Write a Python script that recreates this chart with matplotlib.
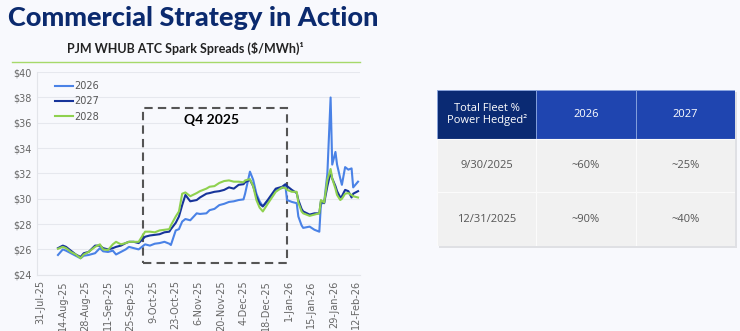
# PJM WHUB ATC spark spreads + hedge table

import pandas as pd
import matplotlib.pyplot as plt
import matplotlib.dates as mdates
from matplotlib.patches import Rectangle

dates = ['2025-08-11', '2025-08-14', '2025-08-16', '2025-08-19', '2025-08-22', '2025-08-25',
         '2025-08-27', '2025-08-30', '2025-09-03', '2025-09-06', '2025-09-08', '2025-09-11',
         '2025-09-14', '2025-09-16', '2025-09-19', '2025-09-22', '2025-09-24', '2025-09-27',
         '2025-09-30', '2025-10-04', '2025-10-07', '2025-10-10', '2025-10-13', '2025-10-16',
         '2025-10-19', '2025-10-20', '2025-10-23', '2025-10-25', '2025-10-27', '2025-10-29',
         '2025-11-01', '2025-11-05', '2025-11-07', '2025-11-11', '2025-11-13', '2025-11-16',
         '2025-11-19', '2025-11-22', '2025-11-25', '2025-11-28', '2025-12-01', '2025-12-04',
         '2025-12-05', '2025-12-08', '2025-12-10', '2025-12-12', '2025-12-14', '2025-12-16',
         '2025-12-19', '2025-12-24', '2025-12-28', '2025-12-30', '2025-12-31', '2026-01-03',
         '2026-01-06', '2026-01-07', '2026-01-09', '2026-01-10', '2026-01-14', '2026-01-17',
         '2026-01-20', '2026-01-21', '2026-01-23', '2026-01-25', '2026-01-27', '2026-01-28',
         '2026-01-30', '2026-01-31', '2026-02-02', '2026-02-03', '2026-02-05', '2026-02-07',
         '2026-02-09', '2026-02-10', '2026-02-13']

spread_2026 = [25.56, 26.0, 25.9, 25.7, 25.5, 25.3, 25.5, 25.56, 25.7, 26.1, 25.85, 25.8,
               25.9, 25.6, 25.8, 26.0, 26.2, 26.1, 26.0, 26.4, 26.3, 26.45, 26.5, 26.6,
               26.45, 26.35, 27.5, 27.6, 28.2, 28.4, 28.3, 28.85, 28.8, 28.85, 29.1, 29.2,
               29.5, 29.6, 29.75, 29.8, 29.9, 29.95, 30.4, 32.14, 31.5, 30.4, 29.8, 29.4,
               29.8, 30.7, 30.85, 31.0, 29.9, 29.75, 29.65, 28.6, 27.9, 27.7, 27.8, 27.55,
               27.4, 29.6, 29.7, 32.0, 38.0, 32.7, 33.7, 32.7, 31.6, 31.1, 32.5, 32.3,
               32.4, 30.9, 31.35]
spread_2027 = [26.1, 26.3, 26.2, 25.9, 25.6, 25.4, 25.7, 25.8, 26.3, 26.3, 26.1, 26.0,
               26.1, 26.2, 26.3, 26.5, 26.6, 26.6, 26.5, 27.0, 27.1, 27.15, 27.2, 27.35,
               27.4, 27.6, 28.1, 28.6, 29.5, 30.3, 29.8, 29.9, 30.1, 30.4, 30.45, 30.55,
               30.6, 30.7, 30.9, 30.8, 31.1, 31.15, 31.3, 31.5, 31.0, 30.2, 29.6, 29.4,
               29.9, 30.8, 30.95, 31.15, 31.0, 30.7, 30.45, 29.9, 29.2, 29.0, 28.75, 28.85,
               28.85, 29.8, 29.65, 31.0, 32.1, 31.6, 31.0, 30.6, 30.1, 30.2, 30.7, 30.6,
               30.1, 30.4, 30.6]
spread_2028 = [26.05, 26.2, 26.1, 25.8, 25.6, 25.3, 25.6, 25.8, 26.2, 26.4, 26.0, 25.95,
               26.4, 26.6, 26.4, 26.5, 26.6, 26.6, 26.6, 27.4, 27.4, 27.35, 27.5, 27.55,
               27.6, 27.9, 28.6, 29.0, 30.4, 30.5, 30.2, 30.45, 30.6, 30.8, 30.95, 31.0,
               31.25, 31.4, 31.45, 31.35, 31.35, 31.3, 31.45, 31.55, 31.0, 29.9, 29.3, 29.0,
               29.6, 30.55, 30.9, 30.85, 30.7, 30.55, 30.55, 29.7, 29.0, 28.85, 28.65, 28.75,
               28.85, 29.9, 29.7, 31.5, 32.35, 31.6, 30.8, 30.3, 29.9, 30.0, 30.4, 30.45,
               30.3, 30.2, 30.1]

series_names = ['2026', '2027', '2028']
series_colors = ['#4a82e6', '#17349a', '#8fd14f']

# Q4 box
q4_start, q4_end = '2025-10-03', '2025-12-31'
q4_low, q4_high = 24.93, 37.2

# hedge table
col_labels = ['Total Fleet %\nPower Hedged²', '2026', '2027']
row_labels = ['9/30/2025', '12/31/2025']
hedged_2026 = ['~60%', '~90%']
hedged_2027 = ['~25%', '~40%']

bg = '#f8f9fd'
fig = plt.figure(figsize=(7.4, 3.31), dpi=100, facecolor=bg)

fig.text(0.011, 0.947, 'Commercial Strategy in Action', family='Lato', weight=900,
         fontsize=19.5, color='#0b2a6e', va='center', ha='left')
fig.text(0.250, 0.855, 'PJM WHUB ATC Spark Spreads ($/MWh)¹', family='Lato', weight='bold',
         fontsize=9, color='#222222', va='center', ha='center')
fig.add_artist(plt.Line2D([0.016, 0.486], [0.812, 0.812], color='#a6d96a', lw=1.0))

ax = fig.add_axes([0.05, 0.170, 0.436, 0.612], facecolor=bg)
x = pd.to_datetime(dates)
for vals, name, col in zip([spread_2026, spread_2027, spread_2028], series_names, series_colors):
    ax.plot(x, vals, color=col, lw=1.5, label=name)

ax.add_patch(Rectangle((mdates.date2num(pd.Timestamp(q4_start)), q4_low),
                       mdates.date2num(pd.Timestamp(q4_end)) - mdates.date2num(pd.Timestamp(q4_start)),
                       q4_high - q4_low, fill=False, ec='#555555', lw=1.5, ls=(0, (4, 2.5))))
ax.text(pd.Timestamp('2025-11-14'), 36.25, 'Q4 2025', family='Lato', weight='bold',
        fontsize=10, color='black', ha='center', va='center')

ax.set_ylim(24, 40)
ax.set_yticks(range(24, 41, 2))
ax.set_yticklabels([f'${v}' for v in range(24, 41, 2)])
ax.set_xlim(pd.Timestamp('2025-07-29'), pd.Timestamp('2026-02-14'))
ticks = pd.date_range('2025-07-31', '2026-02-12', freq='14D')
ax.set_xticks(ticks)
ax.set_xticklabels([f'{t.day}-{t.strftime("%b-%y")}' for t in ticks], rotation=90)
ax.tick_params(colors='#666666', labelsize=7, length=0, pad=4)
ax.grid(axis='y', color='#e6e8ee', lw=0.8)
for s in ['top', 'right']:
    ax.spines[s].set_visible(False)
for s in ['left', 'bottom']:
    ax.spines[s].set_color('#e3e5ea')
ax.set_axisbelow(True)
ax.legend(loc='upper left', bbox_to_anchor=(0.03, 1.0), frameon=False, fontsize=7,
          labelcolor='#555555', handlelength=1.8, handletextpad=0.1, labelspacing=0.55)

# table
tx = fig.add_axes([0.5905, 0.2568, 0.4027, 0.4713])
tx.set_xlim(0, 298)
tx.set_ylim(156, 0)
tx.axis('off')
col_w = 298 / 3
head_h = 49
row_h = (156 - head_h) / 2
tx.add_patch(Rectangle((2, 2), 298, 156, fc='#c8c8cc', ec='none', alpha=0.5, clip_on=False, zorder=0))
head_colors = ['#0a2a73', '#1f45b0', '#1f45b0']
for j, lab in enumerate(col_labels):
    tx.add_patch(Rectangle((j * col_w, 0), col_w, head_h, fc=head_colors[j], ec='#8aa6e0', lw=0.6, zorder=1))
    tx.text(j * col_w + col_w / 2, head_h / 2, lab, color='white', ha='center', va='center',
            family='Open Sans', fontsize=8, zorder=2, linespacing=1.1)
body = [[row_labels[i], hedged_2026[i], hedged_2027[i]] for i in range(len(row_labels))]
for i, row in enumerate(body):
    for j, val in enumerate(row):
        y0 = head_h + i * row_h
        tx.add_patch(Rectangle((j * col_w, y0), col_w, row_h, fc='#f1f1f1', ec='#fbfbfb', lw=0.8, zorder=1))
        tx.text(j * col_w + col_w / 2, y0 + row_h / 2, val, color='#555555', ha='center',
                va='center', family='Open Sans', fontsize=8, zorder=2)

fig.savefig('out.png', dpi=100, facecolor=bg)
